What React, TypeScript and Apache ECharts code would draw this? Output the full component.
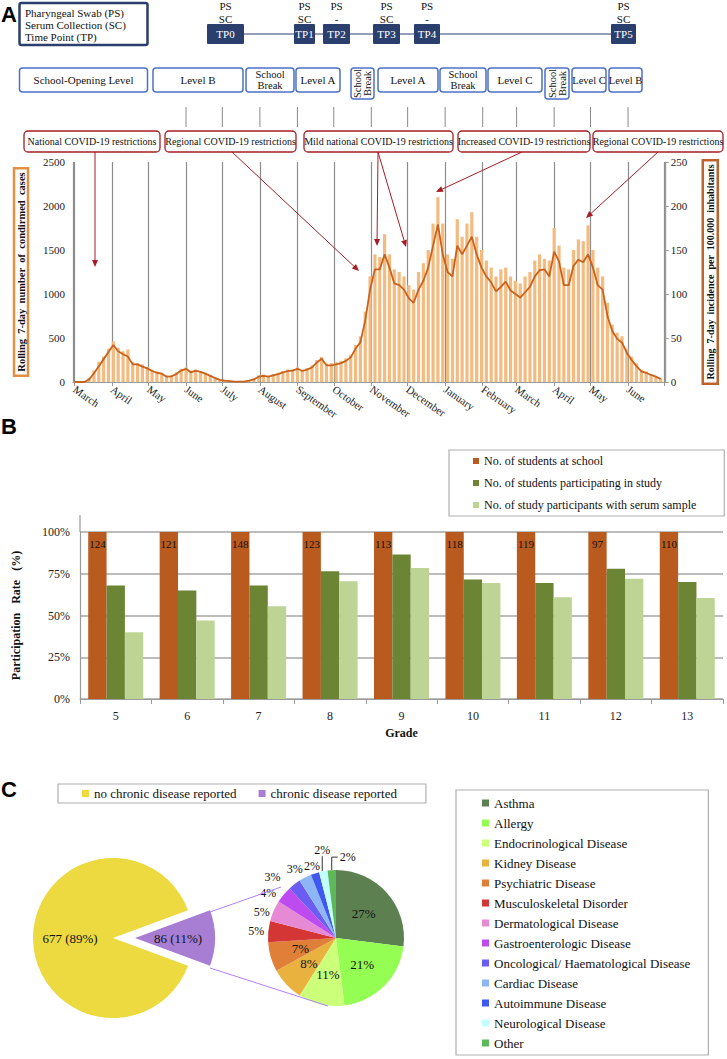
import React, { useEffect, useRef } from "react";
import * as echarts from "echarts";

const SERIF = "'Liberation Serif', 'DejaVu Serif', serif";
const SANS = "'Liberation Sans', Arial, sans-serif";

// ---------- Panel A data ----------
const CASE_START = { year: 2020, month: 2, day: 1 };
const CASE_STEP_DAYS = 4;
const MONTH_NAMES = ["January", "February", "March", "April", "May", "June", "July", "August", "September", "October", "November", "December"];
const rollingCases = [
  0, 0, 0, 30, 100, 180, 260, 340, 420, 350,
  315, 290, 200, 200, 175, 155, 125, 105, 95, 60,
  65, 90, 130, 150, 110, 130, 115, 95, 70, 45,
  25, 15, 10, 5, 5, 5, 15, 30, 60, 70,
  60, 75, 90, 110, 125, 130, 150, 125, 140, 165,
  220, 265, 190, 190, 200, 215, 240, 280, 380, 450,
  700, 1050, 1280, 1280, 1450, 1300, 1120, 1100, 1050, 950,
  900, 1050, 1150, 1300, 1550, 1790, 1450, 1250, 1200, 1550,
  1450, 1550, 1650, 1450, 1300, 1200, 1130, 1030, 1080, 1140,
  1040, 1000, 960, 1020, 1080, 1200, 1270, 1280, 1200, 1480,
  1370, 1100, 1100, 1320, 1390, 1360, 1450, 1300, 1100, 1050,
  750, 580, 490, 450, 330, 250, 180, 120, 105, 80,
  60, 35,
];
const dailyCases = [
  2, 3, 5, 45, 130, 230, 290, 380, 460, 390,
  350, 370, 230, 215, 200, 170, 140, 120, 105, 75,
  80, 110, 150, 165, 130, 140, 125, 105, 80, 55,
  30, 20, 12, 8, 7, 9, 22, 40, 75, 85,
  70, 90, 105, 125, 140, 145, 165, 140, 160, 190,
  250, 285, 210, 215, 225, 240, 270, 310, 420, 520,
  800, 1200, 1450, 1420, 1680, 1450, 1280, 1250, 1200, 1100,
  1050, 1250, 1350, 1500, 1800, 2100, 1800, 1450, 1400, 1850,
  1650, 1800, 1930, 1650, 1500, 1380, 1300, 1200, 1280, 1300,
  1200, 1150, 1120, 1200, 1250, 1380, 1450, 1400, 1380, 1750,
  1550, 1300, 1280, 1500, 1620, 1600, 1780, 1500, 1300, 1200,
  900, 650, 560, 520, 380, 290, 210, 140, 120, 90,
  70, 40,
];
const caseYTicks = { min: 0, max: 2500, interval: 500 };
const incidenceYTicks = { min: 0, max: 250, interval: 50 };

const timePoints = ["TP0", "TP1", "TP2", "TP3", "TP4", "TP5"];
const tpSwab = ["PS", "PS", "PS", "PS", "PS", "PS"];
const tpSerum = ["SC", "SC", "-", "SC", "-", "SC"];

// ---------- Panel B data ----------
const grades = ["5", "6", "7", "8", "9", "10", "11", "12", "13"];
const studentsAtSchool = [124, 121, 148, 123, 113, 118, 119, 97, 110];
const atSchoolRate = [100, 100, 100, 100, 100, 100, 100, 100, 100];
const participatingRate = [68, 65, 68, 76.5, 86.5, 71.5, 69.5, 78, 70];
const serumRate = [40, 47, 55.5, 70.5, 78.5, 69.5, 61, 72, 60.5];
const barNames = ["No. of students at school", "No. of students participating in study", "No. of study participants with serum sample"];

// ---------- Panel C data ----------
const chronicNames = ["no chronic disease reported", "chronic disease reported"];
const chronicCounts = [677, 86];
const diseaseNames = [
  "Asthma", "Allergy", "Endocrinological Disease", "Kidney Disease", "Psychiatric Disease",
  "Musculoskeletal Disorder", "Dermatological Disease", "Gastroenterologic Disease",
  "Oncological/ Haematological Disease", "Cardiac Disease", "Autoimmune Disease",
  "Neurological Disease", "Other",
];
const diseaseShares = [27, 21, 11, 8, 7, 5, 5, 4, 3, 3, 2, 2, 2];

// ---------- styles ----------
const NAVY = "#2B3F6E";
const BLUE = "#4C72C6";
const RED = "#A81C24";
const diseaseColors = ["#5C8050", "#94FF52", "#CCFF7A", "#E9B23F", "#E07F38", "#D43535", "#E68AD6", "#BE4BF0", "#6B5CF2", "#8DB6F7", "#3F58F0", "#C2FFFF", "#5DB85A"];
const chronicColors = ["#ECDA40", "#A77ED3"];
const barColors = ["#B95B1F", "#6B8535", "#BDD495"];
// small nudges for the crowded outside labels of the disease pie (dx, dy)
const labelNudge: Record<number, [number, number]> = {
  5: [2, 0], 6: [2, 1], 7: [0, 0], 8: [-3.5, -2.5], 9: [2, -3], 10: [5.5, -2],
};

const DAY = 86400000;

const txt = (x: number, y: number, text: string, fontSize: number, extra: any = {}) => ({
  type: "text", x, y, silent: true, rotation: extra.rotation || 0, z: 20,
  style: {
    text, fontFamily: extra.fontFamily || SERIF, fontSize, fontWeight: extra.fontWeight || "normal",
    fill: extra.fill || "#111", align: extra.align || "center", verticalAlign: extra.verticalAlign || "middle",
    textAlign: extra.align || "center", textVerticalAlign: extra.verticalAlign || "middle",
    lineHeight: extra.lineHeight,
  },
});
const rect = (x: number, y: number, w: number, h: number, stroke: string, lw: number, fill = "#fff", r = 2) => ({
  type: "rect", silent: true, z: 18, shape: { x, y, width: w, height: h, r }, style: { fill, stroke, lineWidth: lw },
});
const arrow = (x1: number, y1: number, x2: number, y2: number) => {
  const a = Math.atan2(y2 - y1, x2 - x1);
  const L = 7, W = 3;
  const bx = x2 - L * Math.cos(a), by = y2 - L * Math.sin(a);
  const px = -Math.sin(a) * W, py = Math.cos(a) * W;
  return [
    { type: "line", silent: true, z: 25, shape: { x1, y1, x2: bx, y2: by }, style: { stroke: RED, lineWidth: 1 } },
    { type: "polygon", silent: true, z: 25, shape: { points: [[x2, y2], [bx + px, by + py], [bx - px, by - py]] }, style: { fill: RED } },
  ];
};

function buildGraphic(monthTickXs: number[]) {
  const g: any[] = [];
  g.push(txt(1, 3, "A", 22, { fontFamily: SANS, fontWeight: "bold", align: "left", verticalAlign: "top", fill: "#000" }));
  g.push(txt(1, 415, "B", 22, { fontFamily: SANS, fontWeight: "bold", align: "left", verticalAlign: "top", fill: "#000" }));
  g.push(txt(1, 778, "C", 22, { fontFamily: SANS, fontWeight: "bold", align: "left", verticalAlign: "top", fill: "#000" }));

  // timeline legend box
  g.push(rect(19.5, 3, 128, 42, NAVY, 2.5));
  g.push(txt(25, 13, "Pharyngeal Swab (PS)", 11, { align: "left" }));
  g.push(txt(25, 25, "Serum Collection (SC)", 11, { align: "left" }));
  g.push(txt(25, 37, "Time Point (TP)", 11, { align: "left" }));

  // timeline
  const tpBoxes = [
    { x: 207, w: 37 }, { x: 294, w: 21 }, { x: 323, w: 27 },
    { x: 373, w: 27 }, { x: 414, w: 26 }, { x: 611, w: 25 },
  ];
  g.push({ type: "line", silent: true, z: 17, shape: { x1: 244, y1: 34, x2: 611, y2: 34 }, style: { stroke: NAVY, lineWidth: 1 } });
  tpBoxes.forEach((b, i) => {
    g.push(rect(b.x, 24, b.w, 20, NAVY, 0, NAVY, 1));
    g.push(txt(b.x + b.w / 2, 34, timePoints[i], 11, { fill: "#fff" }));
    g.push(txt(b.x + b.w / 2, 6, tpSwab[i], 11));
    g.push(txt(b.x + b.w / 2, 18.5, tpSerum[i], 11));
  });

  // school opening level row
  const schoolBoxes = [
    { x: 19.5, w: 128, t: "School-Opening Level" },
    { x: 153, w: 90, t: "Level B" },
    { x: 246, w: 48, t: "School\nBreak" },
    { x: 296, w: 44, t: "Level A" },
    { x: 351, w: 23, t: "School\nBreak", v: true },
    { x: 378, w: 60, t: "Level A" },
    { x: 440, w: 46, t: "School\nBreak" },
    { x: 488, w: 54, t: "Level C" },
    { x: 545, w: 24, t: "School\nBreak", v: true },
    { x: 572, w: 34, t: "Level C" },
    { x: 609, w: 33, t: "Level B" },
  ];
  schoolBoxes.forEach((b) => {
    const h = b.v ? 31 : 24;
    g.push(rect(b.x, 68, b.w, h, BLUE, 1.5, "#fff", 3));
    if (b.v) {
      g.push(txt(b.x + b.w / 2, 68 + h / 2, b.t, 10.5, { rotation: Math.PI / 2, lineHeight: 10 }));
    } else {
      const fs = b.t.includes("\n") || b.w < 36 ? 10.5 : 11;
      g.push(txt(b.x + b.w / 2, 80, b.t, fs, { lineHeight: 11 }));
    }
  });

  // month marker lines
  monthTickXs.forEach((x) => {
    g.push({ type: "line", silent: true, z: 17, shape: { x1: x, y1: 107, x2: x, y2: 127 }, style: { stroke: "#8a8a8a", lineWidth: 1 } });
  });

  // restriction boxes
  const restrictions = [
    { x: 24, w: 136, t: "National COVID-19 restrictions" },
    { x: 165, w: 131, t: "Regional COVID-19 restrictions" },
    { x: 304, w: 149, t: "Mild national COVID-19 restrictions" },
    { x: 458, w: 132, t: "Increased COVID-19 restrictions" },
    { x: 593, w: 130, t: "Regional COVID-19 restrictions" },
  ];
  restrictions.forEach((b) => {
    g.push(rect(b.x, 131, b.w, 21, RED, 1.3, "#fff", 4));
    g.push(txt(b.x + b.w / 2, 141.5, b.t, 10));
  });
  [
    [95, 152, 95, 267], [232, 152, 359, 271], [378, 152, 377, 246],
    [378, 152, 406, 247], [522, 152, 436, 192], [658, 152, 586, 218],
  ].forEach(([a, b, c, d]) => arrow(a, b, c, d).forEach((e) => g.push(e)));

  // panel B: y axis line extension above 100%
  g.push({ type: "line", silent: true, z: 5, shape: { x1: 80, y1: 515, x2: 80, y2: 532 }, style: { stroke: "#9a9a9a", lineWidth: 1.2 } });

  // panel C: connecting lines between pies
  g.push({ type: "line", silent: true, z: 5, shape: { x1: 210, y1: 912, x2: 281, y2: 887 }, style: { stroke: "#B07FFF", lineWidth: 1 } });
  g.push({ type: "line", silent: true, z: 5, shape: { x1: 210, y1: 968, x2: 328, y2: 1006 }, style: { stroke: "#B07FFF", lineWidth: 1 } });
  return g;
}

export default function App() {
  const ref = useRef<HTMLDivElement>(null);
  useEffect(() => {
    if (!ref.current) return;
    const chart = echarts.init(ref.current, null, { renderer: "svg" });
    const caseDates = rollingCases.map((_, i) =>
      new Date(CASE_START.year, CASE_START.month, CASE_START.day + i * CASE_STEP_DAYS).getTime()
    );
    const axisMin = new Date(2020, 2, 1).getTime();
    const axisMax = new Date(2021, 5, 30).getTime();
    const lastLabelLimit = new Date(2021, 5, 15).getTime();
    const chronicTotal = chronicCounts[0] + chronicCounts[1];
    const axisFont = { fontFamily: SERIF, color: "#222" };
    const plain = (v: number) => String(v);

    const option: any = {
      animation: false,
      backgroundColor: "#fff",
      grid: [
        { left: 73, top: 162, width: 594, height: 220 },
        { left: 80, top: 532, width: 643, height: 167 },
      ],
      xAxis: [
        {
          type: "time", gridIndex: 0, min: axisMin, max: axisMax,
          minInterval: 28 * DAY, maxInterval: 31 * DAY, splitNumber: 16,
          axisLine: { lineStyle: { color: "#9a9a9a", width: 1.2 } },
          axisTick: { show: true, length: 4, lineStyle: { color: "#9a9a9a" } },
          splitLine: { show: true, lineStyle: { color: "#8c8c8c", width: 1.2 } },
          axisLabel: {
            ...axisFont, fontSize: 11, rotate: -35, margin: 6, hideOverlap: false,
            formatter: (v: number) => (v > lastLabelLimit ? "" : MONTH_NAMES[new Date(v).getMonth()]),
          },
        },
        {
          type: "category", gridIndex: 1, data: grades,
          axisLine: { lineStyle: { color: "#9a9a9a", width: 1.2 } },
          axisTick: { show: true, length: 5, lineStyle: { color: "#9a9a9a" } },
          axisLabel: { ...axisFont, fontSize: 12, margin: 11 },
          name: "Grade", nameLocation: "middle", nameGap: 28,
          nameTextStyle: { fontFamily: SERIF, fontWeight: "bold", fontSize: 12, color: "#111" },
        },
      ],
      yAxis: [
        {
          type: "value", gridIndex: 0, ...caseYTicks, position: "left",
          axisLine: { show: false }, axisTick: { show: false }, splitLine: { show: false },
          axisLabel: { ...axisFont, fontSize: 11, margin: 8, formatter: plain },
          name: "Rolling  7-day  number  of  condirmed  cases", nameLocation: "middle", nameRotate: 90, nameGap: 45,
          nameTextStyle: {
            fontFamily: SERIF, fontWeight: "bold", fontSize: 10.5, color: "#111",
            borderColor: "#E0903F", borderWidth: 2.5, padding: [2, 4, 1, 4],
          },
        },
        {
          type: "value", gridIndex: 0, ...incidenceYTicks, position: "right",
          axisLine: { show: true, lineStyle: { color: "#9a9a9a", width: 1.2 } },
          axisTick: { show: true, length: 4, lineStyle: { color: "#9a9a9a" } },
          splitLine: { show: false },
          axisLabel: { ...axisFont, fontSize: 11, margin: 6, formatter: plain },
          name: "Rolling  7-day  incidence  per  100.000  inhabitants", nameLocation: "middle", nameRotate: 90, nameGap: 38,
          nameTextStyle: {
            fontFamily: SERIF, fontWeight: "bold", fontSize: 10, color: "#111",
            borderColor: "#C0622A", borderWidth: 2.5, padding: [3, 4, 2, 4],
          },
        },
        {
          type: "value", gridIndex: 1, min: 0, max: 100, interval: 25,
          axisLine: { show: true, lineStyle: { color: "#9a9a9a", width: 1.2 } },
          axisTick: { show: false },
          splitLine: { show: true, lineStyle: { color: "#a6a6a6", width: 1.5 } },
          axisLabel: { ...axisFont, fontSize: 12, margin: 10, formatter: "{value}%" },
          name: "Participation   Rate   (%)", nameLocation: "middle", nameGap: 58,
          nameTextStyle: { fontFamily: SERIF, fontWeight: "bold", fontSize: 12, color: "#111" },
        },
      ],
      legend: [
        {
          data: barNames, left: 449, top: 450, orient: "vertical", icon: "rect",
          itemWidth: 6, itemHeight: 6, itemGap: 8, selectedMode: false,
          padding: [4, 28, 4, 24], borderColor: "#B0B0B0", borderWidth: 1.2,
          textStyle: { fontFamily: SERIF, fontSize: 12, color: "#111", lineHeight: 14 },
        },
        {
          data: chronicNames, left: 58, top: 784, orient: "horizontal", icon: "rect",
          itemWidth: 7, itemHeight: 7, itemGap: 22, selectedMode: false,
          padding: [2, 29, 2, 24], borderColor: "#B0B0B0", borderWidth: 1.2,
          textStyle: { fontFamily: SERIF, fontSize: 13, color: "#111", lineHeight: 15 },
        },
        {
          data: diseaseNames, left: 456, top: 790, height: 262, orient: "vertical", icon: "rect",
          itemWidth: 7, itemHeight: 7, itemGap: 6, selectedMode: false,
          padding: [6, 18, 5, 26], borderColor: "#B0B0B0", borderWidth: 1.2,
          textStyle: { fontFamily: SERIF, fontSize: 13, color: "#111", lineHeight: 14 },
        },
      ],
      series: [
        {
          type: "bar", name: "daily cases", xAxisIndex: 0, yAxisIndex: 0, silent: true,
          barWidth: 3.2, itemStyle: { color: "#F3BB80" },
          data: caseDates.map((t, i) => [t, dailyCases[i]]),
        },
        {
          type: "line", name: "rolling cases", xAxisIndex: 0, yAxisIndex: 0, silent: true,
          showSymbol: false, symbol: "none", lineStyle: { color: "#C8621C", width: 1.8 },
          data: caseDates.map((t, i) => [t, rollingCases[i]]),
        },
        {
          type: "bar", name: barNames[0], xAxisIndex: 1, yAxisIndex: 2, silent: true,
          barGap: "0%", barCategoryGap: "23%", itemStyle: { color: barColors[0] },
          data: atSchoolRate,
          label: {
            show: true, position: "insideTop", distance: 6, fontFamily: SERIF, fontSize: 11, color: "#111",
            formatter: (p: any) => String(studentsAtSchool[p.dataIndex]),
          },
        },
        {
          type: "bar", name: barNames[1], xAxisIndex: 1, yAxisIndex: 2, silent: true,
          barGap: "0%", barCategoryGap: "23%", itemStyle: { color: barColors[1] }, data: participatingRate,
        },
        {
          type: "bar", name: barNames[2], xAxisIndex: 1, yAxisIndex: 2, silent: true,
          barGap: "0%", barCategoryGap: "23%", itemStyle: { color: barColors[2] }, data: serumRate,
        },
        {
          type: "pie", name: "chronic", center: [113, 938], radius: 80, silent: true,
          startAngle: (chronicCounts[1] / chronicTotal) * 180, clockwise: true,
          selectedMode: "single", selectedOffset: 22,
          emphasis: { disabled: true },
          select: { itemStyle: { color: chronicColors[1] } },
          label: {
            show: true, position: "inside", fontFamily: SERIF, fontSize: 13, color: "#111",
            formatter: (p: any) => `${p.value} (${Math.round(p.percent)}%)`,
          },
          labelLine: { show: false },
          data: [
            { name: chronicNames[1], value: chronicCounts[1], selected: true, itemStyle: { color: chronicColors[1] } },
            { name: chronicNames[0], value: chronicCounts[0], itemStyle: { color: chronicColors[0] } },
          ],
        },
        {
          type: "pie", name: "diseases", center: [336, 938], radius: 68, silent: true,
          startAngle: 90, clockwise: true, avoidLabelOverlap: false,
          emphasis: { disabled: true },
          label: { show: true, fontFamily: SERIF, fontSize: 12, color: "#111", formatter: "{c}%" },
          labelLine: { length: 3, length2: 0, lineStyle: { color: "#333", width: 1 } },
          labelLayout: (p: any) => {
            const pts = p.labelLinePoints;
            if (p.dataIndex === 11 && pts) {
              const [x0, y0] = pts[0];
              return { x: x0 - 1, y: y0 - 21, align: "center", verticalAlign: "middle", labelLinePoints: [[x0 - 1, y0], [x0 - 1, y0 - 15], [x0 - 1, y0 - 15]] };
            }
            if (p.dataIndex === 12 && pts) {
              const [x0, y0] = pts[0];
              return { x: x0 + 8, y: y0 - 13, align: "left", verticalAlign: "middle", labelLinePoints: [[x0, y0], [x0, y0 - 13], [x0 + 6, y0 - 13]] };
            }
            const n = labelNudge[p.dataIndex];
            return n ? { dx: n[0], dy: n[1] } : {};
          },
          data: diseaseNames.map((name, i) => ({
            name, value: diseaseShares[i], itemStyle: { color: diseaseColors[i] },
            label: i < 5 ? { position: "inside", fontSize: 13 } : { position: "outside", fontSize: 12 },
            labelLine: { show: i >= 11 },
          })),
        },
      ],
    };
    chart.setOption(option);
    const tickXs: number[] = [];
    for (let k = 0; k <= 12; k++) {
      const x = chart.convertToPixel({ xAxisIndex: 0 } as any, new Date(2020, 5 + k, 1).getTime() as any) as any;
      tickXs.push(Number(x));
    }
    chart.setOption({ graphic: buildGraphic(tickXs) });
    return () => chart.dispose();
  }, []);
  return (
    <div
      ref={ref}
      style={{ position: "absolute", left: 0, top: 0, width: 727, height: 1059, background: "#fff" }}
    />
  );
}
